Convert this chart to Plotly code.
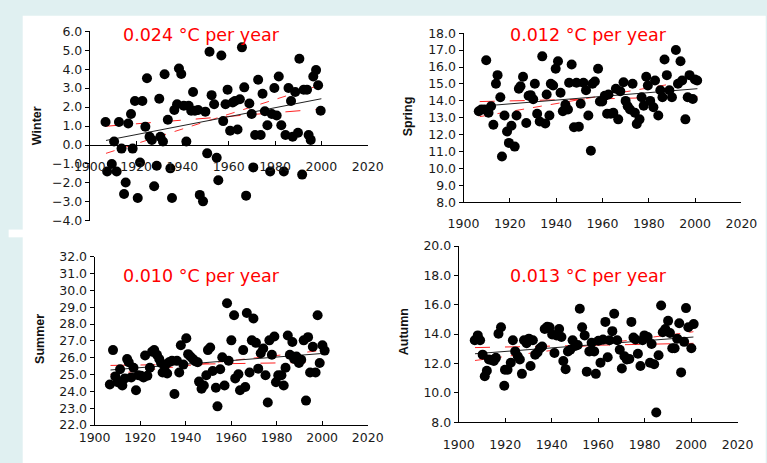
import plotly.graph_objects as go

# ---------------- data ----------------
winter_years = [1906.8,1907.5,1909.5,1910.5,1911.6,1912.6,1913.7,1914.8,1915.5,1916.6,1917.8,1918.5,1919.5,1920.7,1921.7,1922.7,1924.0,1924.7,1925.8,1926.8,1927.8,1928.9,1930.0,1930.5,1931.6,1932.3,1933.7,1934.8,1935.5,1936.5,1937.7,1938.5,1939.5,1940.6,1941.7,1942.7,1943.8,1944.6,1945.4,1946.8,1947.5,1948.9,1949.9,1950.7,1951.7,1952.6,1953.7,1954.8,1955.5,1956.8,1957.6,1958.6,1959.5,1960.6,1961.7,1962.7,1963.8,1964.8,1965.7,1966.7,1967.5,1968.9,1969.9,1970.6,1971.4,1972.7,1973.8,1974.6,1975.6,1976.7,1977.9,1978.6,1979.7,1980.7,1981.6,1982.7,1983.8,1984.5,1985.8,1986.9,1987.6,1988.7,1989.9,1990.5,1991.7,1992.4,1993.8,1994.5,1995.4,1996.5,1997.7,1998.6,1999.7]
winter_vals = [1.21,-1.40,-1.00,0.19,-1.40,1.21,-0.19,-2.58,-1.98,1.13,1.64,-0.19,2.32,-2.79,-0.92,2.32,0.96,3.52,0.44,0.27,-2.17,-1.09,2.44,0.44,0.19,3.73,1.33,-1.23,-2.79,1.85,2.15,4.03,3.74,2.07,0.19,2.07,1.81,2.80,1.81,1.85,-2.63,-2.97,1.76,-0.44,4.92,2.63,2.15,-0.67,-1.86,4.72,1.26,2.15,2.92,0.75,2.24,2.32,0.82,2.41,5.15,3.04,-2.67,2.19,1.64,-1.18,0.53,3.44,0.53,2.70,1.78,1.04,-1.40,1.64,3.01,1.56,3.61,1.04,-1.40,0.53,3.01,2.32,0.44,2.80,0.65,4.55,-1.56,2.92,2.92,0.53,0.27,3.61,3.95,3.15,1.81]

spring_years = [1906.6,1907.7,1909.1,1909.8,1910.8,1911.9,1912.9,1914.0,1914.7,1915.9,1916.6,1917.7,1918.8,1919.6,1920.7,1922.1,1922.9,1923.9,1924.6,1925.7,1927.1,1928.1,1929.0,1930.1,1930.8,1931.8,1932.9,1934.0,1935.3,1935.9,1937.1,1937.7,1938.7,1939.8,1940.8,1941.9,1942.9,1944.0,1945.1,1945.6,1946.7,1947.7,1948.8,1949.8,1950.6,1951.8,1952.9,1953.9,1955.0,1955.7,1956.7,1958.1,1958.9,1959.9,1961.0,1962.0,1962.6,1963.6,1964.7,1965.8,1966.8,1967.7,1969.1,1970.0,1970.9,1971.9,1973.0,1974.0,1974.8,1976.0,1976.9,1977.8,1978.9,1979.6,1980.6,1982.0,1982.7,1984.1,1985.0,1985.9,1986.8,1987.8,1988.9,1990.0,1991.7,1992.6,1993.7,1994.4,1995.8,1996.8,1997.6,1999.0,1999.9,2000.9]
spring_vals = [13.39,13.49,13.49,16.40,13.30,13.68,12.59,15.01,15.52,14.21,10.72,13.14,12.19,11.52,12.53,11.30,13.14,14.72,14.86,15.43,12.69,14.30,14.34,14.10,15.01,13.24,12.78,16.63,12.67,14.38,13.14,15.01,14.91,15.90,16.34,14.48,13.39,13.77,13.49,15.07,16.15,12.44,15.07,12.48,13.83,15.07,14.63,13.14,11.05,15.01,15.14,15.90,13.96,13.96,14.30,13.24,14.38,13.24,13.30,14.72,12.91,14.57,15.10,14.00,13.68,13.49,15.01,13.30,12.63,12.91,14.21,13.71,15.43,14.91,14.00,13.62,15.20,13.14,14.63,14.21,16.44,15.52,14.63,14.21,17.01,15.01,16.34,15.20,12.91,14.21,15.52,14.11,15.26,15.20]

summer_years = [1906.7,1908.1,1909.1,1910.2,1911.2,1912.2,1913.3,1914.3,1915.0,1916.1,1917.1,1918.2,1919.2,1920.4,1921.5,1922.2,1923.2,1924.3,1925.3,1926.2,1927.4,1928.4,1929.2,1929.9,1930.9,1931.9,1932.7,1934.0,1935.1,1936.2,1937.2,1937.9,1939.0,1940.3,1941.1,1942.1,1943.2,1944.2,1945.3,1945.9,1947.0,1948.0,1949.1,1949.8,1950.8,1951.9,1953.3,1954.0,1955.2,1956.1,1957.1,1958.2,1958.9,1960.1,1961.3,1961.8,1963.2,1963.9,1965.3,1966.2,1966.9,1968.1,1969.1,1969.8,1970.9,1971.9,1973.0,1974.1,1975.1,1976.1,1976.8,1977.9,1979.0,1979.7,1980.7,1982.1,1983.1,1983.9,1984.9,1985.8,1986.9,1987.7,1988.7,1989.8,1990.8,1991.9,1992.9,1993.8,1994.7,1995.9,1997.1,1998.0,1998.9,2000.1,2001.1]
summer_vals = [24.41,26.45,24.89,24.54,25.31,24.35,24.77,25.92,25.73,24.83,25.40,24.07,24.96,24.93,24.83,26.13,24.93,25.40,26.36,26.45,26.17,25.92,25.69,25.12,25.50,25.06,25.73,25.82,23.84,25.82,25.12,26.74,25.59,27.16,26.21,26.07,25.92,25.79,25.73,24.58,24.16,24.35,24.96,26.45,26.61,25.21,24.22,23.11,25.31,26.03,24.35,29.23,25.82,27.03,28.52,24.77,25.02,24.07,26.45,24.26,28.65,25.12,27.03,28.33,26.88,25.35,26.26,26.55,24.96,23.34,27.03,26.17,27.26,24.54,24.96,24.96,24.35,25.40,27.32,26.17,26.93,25.92,26.07,25.69,25.88,27.03,23.45,27.22,25.12,26.65,25.12,28.52,25.69,26.74,26.42]

autumn_years = [1906.9,1908.2,1909.2,1910.3,1911.2,1912.1,1913.0,1914.1,1915.1,1916.0,1917.1,1918.2,1919.6,1919.9,1921.0,1922.4,1923.3,1924.3,1925.4,1926.3,1927.2,1928.1,1929.2,1930.2,1930.9,1931.9,1932.9,1933.9,1935.0,1935.9,1937.0,1938.1,1939.1,1940.2,1941.2,1942.1,1943.2,1944.2,1945.0,1946.0,1947.0,1948.0,1949.0,1950.1,1951.2,1952.1,1953.1,1954.2,1955.1,1956.2,1957.2,1958.3,1959.0,1960.1,1961.0,1962.1,1963.1,1964.1,1964.9,1966.1,1966.9,1968.2,1969.3,1970.2,1971.3,1972.3,1973.4,1974.3,1975.2,1976.1,1977.1,1978.2,1979.1,1979.9,1981.3,1982.3,1983.0,1984.1,1985.0,1986.0,1987.1,1987.8,1988.9,1990.1,1990.9,1991.9,1992.9,1994.0,1994.9,1995.7,1997.0,1997.8,1998.8,2000.1,2001.1]
autumn_vals = [13.58,13.91,13.58,12.60,11.13,11.50,12.27,12.23,12.16,12.38,14.02,14.46,10.48,11.57,11.57,12.05,13.58,12.82,12.49,12.27,11.29,13.58,13.37,13.69,11.83,13.58,12.60,12.75,13.04,13.15,14.35,14.50,14.46,13.98,12.71,13.91,14.35,13.80,12.16,11.61,12.82,12.93,13.58,13.19,13.26,15.73,14.46,13.91,11.44,12.82,13.41,12.82,11.29,13.54,12.05,13.63,14.83,12.42,13.58,14.20,15.38,13.58,12.93,11.66,12.49,12.27,12.31,14.83,13.76,13.63,12.66,11.83,13.58,13.91,13.80,12.05,13.32,11.94,8.66,12.56,15.95,14.13,14.35,14.90,14.07,13.04,13.04,13.69,14.74,11.39,13.47,15.77,14.46,13.04,14.68]

# trend lines (start/end values)
winter_trend_years = [1907, 2000]
winter_fit = [0.24, 2.44]
winter_hi = [-0.44, 3.18]
winter_lo = [0.99, 1.90]

spring_trend_years = [1907, 2001]
spring_fit = [13.68, 14.72]
spring_hi = [13.07, 15.26]
spring_lo = [13.96, 14.25]

summer_trend_years = [1907, 2001]
summer_fit = [25.27, 26.26]
summer_hi = [25.02, 26.45]
summer_lo = [25.54, 25.73]

autumn_trend_years = [1907, 2001]
autumn_fit = [12.66, 13.80]
autumn_hi = [12.20, 14.16]
autumn_lo = [13.08, 13.37]

season_names = ["Winter", "Spring", "Summer", "Autumn"]
rate_labels = ["0.024 °C per year", "0.012 °C per year", "0.010 °C per year", "0.013 °C per year"]
x_ticks = [1900, 1920, 1940, 1960, 1980, 2000, 2020]

# ---------------- layout geometry (pixels) ----------------
W, H = 767, 463
def fx(px):
    return px / W
def fy(py):
    return 1 - py / H

panels = [
    dict(yrs=winter_years, vals=winter_vals, ty=winter_trend_years, fit=winter_fit, hi=winter_hi, lo=winter_lo,
         yrange=[-4, 6], dtick=1, x0=77, x1=367, ytop=24, ybot=220, tx=194, tyy=28, lx=22, ly=122, zero=True, stand=10),
    dict(yrs=spring_years, vals=spring_vals, ty=spring_trend_years, fit=spring_fit, hi=spring_hi, lo=spring_lo,
         yrange=[8, 18], dtick=1, x0=467, x1=757, ytop=26, ybot=201, tx=597, tyy=28, lx=409, ly=112, zero=False, stand=10),
    dict(yrs=summer_years, vals=summer_vals, ty=summer_trend_years, fit=summer_fit, hi=summer_hi, lo=summer_lo,
         yrange=[22, 32], dtick=1, x0=82, x1=367, ytop=257, ybot=431, tx=194, tyy=277, lx=25, ly=342, zero=False, stand=1),
    dict(yrs=autumn_years, vals=autumn_vals, ty=autumn_trend_years, fit=autumn_fit, hi=autumn_hi, lo=autumn_lo,
         yrange=[8, 20], dtick=2, x0=462, x1=753, ytop=246, ybot=428, tx=597, tyy=277, lx=405, ly=335, zero=False, stand=11),
]

tick_font = dict(family="DejaVu Sans", size=12.5, color="#1a1a1a")

fig = go.Figure()
layout = dict(
    width=W, height=H, margin=dict(l=0, r=0, t=0, b=0),
    paper_bgcolor="#e0f0f1", plot_bgcolor="rgba(0,0,0,0)",
    showlegend=False, annotations=[], shapes=[],
)

layout["shapes"].append(dict(type="rect", xref="paper", yref="paper", x0=fx(7), x1=1.02, y0=-0.02, y1=fy(8),
                             fillcolor="white", line=dict(width=0), layer="below"))
layout["shapes"].append(dict(type="rect", xref="paper", yref="paper", x0=-0.01, x1=fx(8), y0=fy(237), y1=fy(229),
                             fillcolor="white", line=dict(width=0), layer="below"))

for i, p in enumerate(panels, start=1):
    xa = "x" if i == 1 else f"x{i}"
    ya = "y" if i == 1 else f"y{i}"
    fig.add_trace(go.Scatter(x=p["ty"], y=p["lo"], mode="lines", xaxis=xa, yaxis=ya,
                             line=dict(color="#ff2020", width=1, dash="longdash"), hoverinfo="skip"))
    fig.add_trace(go.Scatter(x=p["ty"], y=p["hi"], mode="lines", xaxis=xa, yaxis=ya,
                             line=dict(color="#ff3030", width=1, dash="dash"), hoverinfo="skip"))
    fig.add_trace(go.Scatter(x=p["ty"], y=p["fit"], mode="lines", xaxis=xa, yaxis=ya,
                             line=dict(color="#222222", width=1), hoverinfo="skip"))
    fig.add_trace(go.Scatter(x=p["yrs"], y=p["vals"], mode="markers", xaxis=xa, yaxis=ya,
                             marker=dict(color="black", size=10, line=dict(width=0))))

    ydom = [fy(p["ybot"]), fy(p["ytop"])]
    xkey = "xaxis" if i == 1 else f"xaxis{i}"
    ykey = "yaxis" if i == 1 else f"yaxis{i}"
    xaxis = dict(domain=[fx(p["x0"]), fx(p["x1"])], range=[1900, 2020], tickvals=x_ticks,
                 ticks="inside", ticklen=4, tickcolor="black", showline=True, linecolor="black", linewidth=1,
                 showgrid=False, zeroline=False, tickfont=tick_font, ticklabelstandoff=p["stand"],
                 anchor=ya, fixedrange=True)
    if p["zero"]:
        lo_, hi_ = p["yrange"]
        frac = (0 - lo_) / (hi_ - lo_)
        xaxis["anchor"] = "free"
        xaxis["position"] = ydom[0] + frac * (ydom[1] - ydom[0])
    yaxis = dict(domain=ydom, range=p["yrange"], dtick=p["dtick"], tick0=p["yrange"][0], tickformat=".1f",
                 ticks="outside", ticklen=4, tickcolor="black", showline=True, linecolor="black", linewidth=1,
                 showgrid=False, zeroline=False, tickfont=tick_font, anchor=xa, fixedrange=True)
    layout[xkey] = xaxis
    layout[ykey] = yaxis

    layout["annotations"].append(dict(text=rate_labels[i - 1], xref="paper", yref="paper",
                                      x=fx(p["tx"]), y=fy(p["tyy"]), xanchor="center", yanchor="middle",
                                      showarrow=False, font=dict(family="DejaVu Sans", size=17.5, color="#ff0000")))
    layout["annotations"].append(dict(text="<b>" + season_names[i - 1] + "</b>", xref="paper", yref="paper",
                                      x=fx(p["lx"]), y=fy(p["ly"]), xanchor="center", yanchor="middle",
                                      textangle=-90, showarrow=False,
                                      font=dict(family="Liberation Sans", size=12.5, color="#111111")))

fig.update_layout(**layout)
fig.write_html("out.html")
